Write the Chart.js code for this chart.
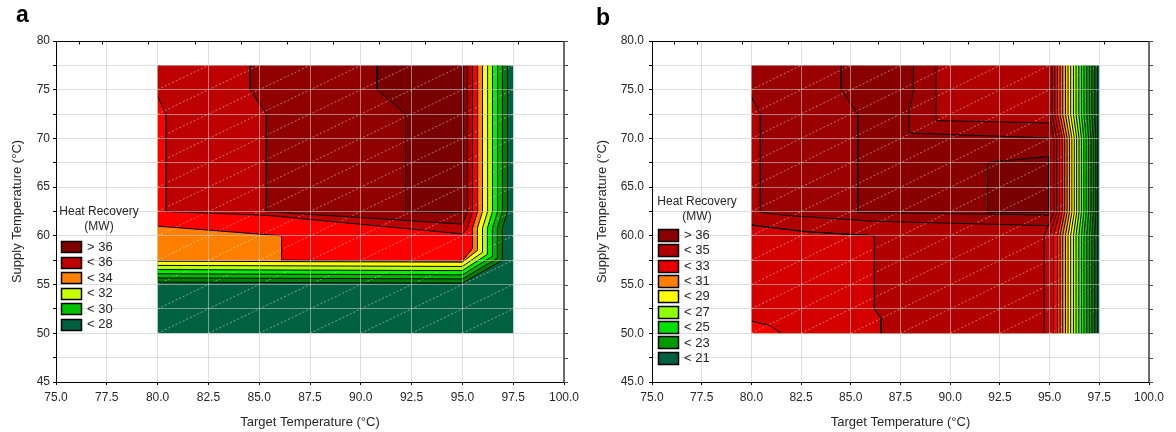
<!DOCTYPE html>
<html>
<head>
<meta charset="utf-8">
<script src="https://cdn.jsdelivr.net/npm/chart.js"></script>
<style>
html,body{margin:0;padding:0;background:#fff;}
#wrap{position:relative;width:1176px;height:432px;overflow:hidden;}
.pane{position:absolute;top:0;width:588px;height:432px;}
.tag{position:absolute;font:bold 23px 'Liberation Sans',Arial,sans-serif;color:#000;line-height:23px;}
</style>
</head>
<body>
<div id="wrap">
  <div class="pane" style="left:0"><canvas id="ca" width="588" height="432"></canvas></div>
  <div class="pane" style="left:588px"><canvas id="cb" width="588" height="432"></canvas></div>
  <div class="tag" style="left:16px;top:3px">a</div>
  <div class="tag" style="left:596px;top:6px">b</div>
</div>
<script>
// ================= DATA =================
const xTitle = 'Target Temperature (°C)';
const yTitle = 'Supply Temperature (°C)';
const legendTitle = ['Heat Recovery', '(MW)'];
const topTickX = [75, 76.13, 77.27, 79.55, 81.82, 84.09, 86.36, 88.64, 90.91, 93.18, 95.45, 97.73];
const hatchOffsets = [-5, -7.5, -10, -12.5, -15, -17.5, -20, -22.5, -25, -27.5, -30, -32.5, -35, -37.5, -40, -42.5, -45];

// ---- panel a ----
const aDomain = [80, 97.5, 50, 77.5];
const aColors = ['#006141', '#008000', '#00b400', '#00f000', '#b4ff00', '#ffff00', '#ff8000', '#ff0000', '#bd0000', '#900000', '#780000'];
const aBandTopX = [97.22, 96.97, 96.73, 96.48, 96.24, 95.99, 95.75];
const aBandMidX = [96.97, 96.72, 96.48, 96.23, 95.99, 95.74, 95.50];
const aBandCornerY = [57.5, 57.7, 57.9, 58.1, 58.3, 58.5, 58.7];
const aBandY95 = [55.15, 55.58, 56.0, 56.43, 56.86, 57.30, 57.42];
const aBandY80 = [55.25, 55.68, 56.11, 56.54, 56.97, 57.40];
const aKinkY = [60.8, 62.5];
const aOrangeEdge = [[80, 61.0], [86.1, 60.0], [86.1, 57.5]];
const aRegion8 = [[80, 77.5], [80, 74.3], [80.4, 72.5], [80.4, 62.5], [85.4, 62.1], [95.0, 60.2], [95.25, 60.8], [95.5, 62.5], [95.5, 77.5]];
const aRegion9 = [[84.55, 77.5], [84.55, 75], [85.35, 72.5], [85.35, 62.5], [95.0, 61.2], [95.26, 62.5], [95.26, 77.5]];
const aRegion10 = [[90.8, 77.5], [90.8, 75], [92.2, 72.5], [92.2, 62.5], [95.0, 62.35], [95.05, 77.5]];
const aLegendLabels = ['> 36', '< 36', '< 34', '< 32', '< 30', '< 28'];
const aLegendColors = ['#800000', '#c00000', '#ff8000', '#c8ff00', '#00c000', '#006040'];

// ---- panel b ----
const bDomain = [80, 97.5, 50, 77.5];
const bColors = ['#006040', '#007030', '#008000', '#009a00', '#00b400', '#00d000', '#00ec00', '#40ff00', '#80ff00', '#b0ff00', '#e0ff00', '#ffff00', '#ffd000', '#ffa000', '#ff7000', '#ff4000', '#ff0000', '#d40000', '#c40000', '#b00000', '#9a0000', '#880000', '#780000'];
const bBandTopX = [97.39, 97.27, 97.13, 97.0, 96.87, 96.73, 96.6, 96.47, 96.33, 96.2, 96.06, 95.93, 95.8, 95.66, 95.53, 95.4, 95.26, 95.13, 95.0];
const bBandMidX = [97.43, 97.32, 97.2, 97.08, 96.96, 96.84, 96.72, 96.6, 96.48, 96.36, 96.24, 96.12, 96.0, 95.88, 95.76, 95.64, 95.5, 95.36, 95.22];
const bBandBotX = [97.39, 97.27, 97.13, 97.0, 96.87, 96.73, 96.6, 96.47, 96.33, 96.2, 96.06, 95.93, 95.8, 95.66, 95.53, 95.4, 95.2, 95.0, 94.73];
const bKinkY = [60.07, 62.41, 70.04, 72.45];
const bCornerEdge = [[80, 51.25], [80.92, 50.8], [81.5, 50]];
const bBlockEdge = [[80, 61.11], [82.76, 60.42], [86.19, 60.01], [86.19, 52.52], [86.53, 51.49], [86.53, 50]];
const bRegionTL = [[80, 77.5], [80, 74.3], [80.45, 72.5], [80.45, 62.41], [81.92, 62.07], [86.2, 61.5], [95.0, 61.04], [95.0, 71.59], [89.29, 71.83], [89.29, 77.5]];
const bRegionMid = [[84.52, 77.5], [84.52, 75], [85.35, 72.5], [85.35, 62.41], [95.0, 62.14], [95.0, 70.04], [87.92, 70.56], [87.92, 72.62], [88.15, 75], [88.15, 77.5]];
const bRegionBox = [[91.88, 67.53], [94.97, 68.15], [94.97, 62.41], [91.88, 62.41]];
const bLegendLabels = ['> 36', '< 35', '< 33', '< 31', '< 29', '< 27', '< 25', '< 23', '< 21'];
const bLegendColors = ['#8b0000', '#b00000', '#e80000', '#ff8000', '#ffff00', '#90ff00', '#00e000', '#009a00', '#006040'];

// ================= BUILD REGIONS =================
function rectPoly(d) { return [[d[0], d[2]], [d[1], d[2]], [d[1], d[3]], [d[0], d[3]]]; }

const aPolys = [rectPoly(aDomain)];
for (let k = 0; k < aBandY80.length; k++) {
  aPolys.push([[80, 77.5], [80, aBandY80[k]], [95, aBandY95[k]], [aBandMidX[k], aBandCornerY[k]],
    [aBandMidX[k], aKinkY[0]], [aBandTopX[k], aKinkY[1]], [aBandTopX[k], 77.5]]);
}
{
  const k = 6;
  aPolys.push([[80, 77.5], ...aOrangeEdge, [95, aBandY95[k]], [aBandMidX[k], aBandCornerY[k]],
    [aBandMidX[k], aKinkY[0]], [aBandTopX[k], aKinkY[1]], [aBandTopX[k], 77.5]]);
}
aPolys.push(aRegion8, aRegion9, aRegion10);

const bPolys = [rectPoly(bDomain)];
for (let i = 0; i < bBandTopX.length; i++) {
  const k = i + 1;
  const left = k <= 16 ? [[80, 50]] : (k === 17 ? bCornerEdge : bBlockEdge);
  bPolys.push([[80, 77.5], ...left, [bBandBotX[i], 50], [bBandBotX[i], bKinkY[0]], [bBandMidX[i], bKinkY[1]],
    [bBandMidX[i], bKinkY[2]], [bBandTopX[i], bKinkY[3]], [bBandTopX[i], 77.5]]);
}
bPolys.push(bRegionTL, bRegionMid, bRegionBox);

// ================= HELPERS =================
const FONT = "'Liberation Sans', Arial, sans-serif";
const TXT = '#262626';
const GRID = 'rgba(200,200,200,0.6)';

function isEdge(a, b, d) {
  const e = 1e-6;
  if (Math.abs(a[0] - b[0]) < e && (Math.abs(a[0] - d[0]) < e || Math.abs(a[0] - d[1]) < e)) return true;
  if (Math.abs(a[1] - b[1]) < e && (Math.abs(a[1] - d[2]) < e || Math.abs(a[1] - d[3]) < e)) return true;
  return false;
}
function contourLine(poly, d) {
  const pts = poly.concat([poly[0]]);
  const out = [];
  let open = false;
  for (let i = 0; i < pts.length - 1; i++) {
    const a = pts[i], b = pts[i + 1];
    if (isEdge(a, b, d)) {
      if (open) { out.push({x: a[0], y: null}); open = false; }
      continue;
    }
    if (!open) { out.push({x: a[0], y: a[1]}); open = true; }
    out.push({x: b[0], y: b[1]});
  }
  return out;
}
function hatchSets(d) {
  const sets = [];
  hatchOffsets.forEach(c => {
    const xa = Math.max(d[0], d[2] - c), xb = Math.min(d[1], d[3] - c);
    if (xb > xa) sets.push({data: [{x: xa, y: xa + c}, {x: xb, y: xb + c}], fill: false,
      borderColor: 'rgba(255,255,255,0.45)', borderWidth: 1, borderDash: [2, 2], pointRadius: 0, order: 6});
  });
  return sets;
}

const framePlugin = {
  id: 'frame',
  afterDraw(chart, args, opts) {
    const {ctx, chartArea: ca, scales: {x, y}} = chart;
    ctx.save();
    ctx.strokeStyle = '#000'; ctx.lineWidth = 1;
    const top = Math.round(ca.top) + 0.5;
    ctx.beginPath();
    ctx.moveTo(ca.left, top); ctx.lineTo(ca.right, top);
    opts.topTicks.forEach(v => { const px = Math.round(x.getPixelForValue(v)) + 0.5; ctx.moveTo(px, top); ctx.lineTo(px, top + 3); });
    ctx.stroke();
    const r = Math.round(ca.right);
    ctx.strokeStyle = '#4a4a4a'; ctx.lineWidth = 1.6;
    ctx.beginPath(); ctx.moveTo(r, ca.top); ctx.lineTo(r, ca.bottom); ctx.stroke();
    ctx.lineWidth = 1; ctx.beginPath();
    y.ticks.forEach(t => { const py = Math.round(y.getPixelForValue(t.value)) + 0.5; ctx.moveTo(r, py); ctx.lineTo(r + 4, py); });
    ctx.stroke();
    ctx.restore();
  }
};
const legendPlugin = {
  id: 'heatLegend',
  afterDraw(chart, args, o) {
    const {ctx, chartArea: ca} = chart;
    ctx.save();
    ctx.fillStyle = TXT; ctx.font = '12px ' + FONT; ctx.textAlign = 'center'; ctx.textBaseline = 'middle';
    ctx.fillText(legendTitle[0], ca.left + o.titleDX, o.titleY);
    ctx.fillText(legendTitle[1], ca.left + o.titleDX, o.titleY + 15);
    o.labels.forEach((lab, i) => {
      const cy = o.firstY + i * o.step;
      const bx = Math.round(ca.left + o.boxDX) + 0.5, by = Math.round(cy - o.boxH / 2) + 0.5;
      ctx.fillStyle = o.colors[i]; ctx.fillRect(bx, by, 20, o.boxH);
      ctx.strokeStyle = '#000'; ctx.lineWidth = 1.5; ctx.strokeRect(bx, by, 20, o.boxH);
      ctx.fillStyle = TXT; ctx.textAlign = 'left'; ctx.font = '13px ' + FONT;
      ctx.fillText(lab, ca.left + o.boxDX + 26, cy + 0.5);
    });
    ctx.restore();
  }
};

function buildChart(id, o) {
  const datasets = [];
  o.polys.forEach((poly, k) => {
    datasets.push({data: poly.concat([poly[0]]).map(([x, y]) => ({x, y})), fill: 'shape',
      backgroundColor: o.colors[k], borderColor: 'rgba(0,0,0,0)', borderWidth: 0, pointRadius: 0, tension: 0, order: 1000 - k});
  });
  hatchSets(o.dom).forEach(s => datasets.push(s));
  o.polys.forEach(poly => {
    const d = contourLine(poly, o.dom);
    if (d.length) datasets.push({data: d, fill: false, borderColor: '#000', borderWidth: 1, pointRadius: 0, tension: 0, spanGaps: false, order: 2});
  });
  const tickFont = {family: FONT, size: 12};
  const titleFont = {family: FONT, size: 13};
  return new Chart(document.getElementById(id), {
    type: 'line',
    data: {datasets},
    options: {
      responsive: false, animation: false, devicePixelRatio: 1, events: [],
      layout: {padding: {top: 41, right: o.padRight, left: 0, bottom: 0}},
      plugins: {legend: {display: false}, tooltip: {enabled: false},
        frame: {topTicks: topTickX}, heatLegend: o.legend},
      scales: {
        x: {type: 'linear', min: 75, max: 100, afterFit: s => { s.height = 50; },
          ticks: {stepSize: 2.5, autoSkip: false, maxRotation: 0, padding: 5, color: TXT, font: tickFont, callback: v => v.toFixed(1)},
          grid: {color: GRID, lineWidth: 1, z: 1, tickLength: 3, tickColor: '#000'},
          border: {color: '#000', width: 1, z: 2},
          title: {display: true, text: xTitle, color: TXT, font: titleFont, padding: {top: 0, bottom: 2}}},
        y: {type: 'linear', min: 45, max: 80, afterFit: s => { s.width = o.yWidth; },
          ticks: {stepSize: 2.5, autoSkip: false, padding: o.yTickPad, color: TXT, font: tickFont,
            callback: v => Math.abs(v / 5 - Math.round(v / 5)) < 1e-6 ? o.yFmt(v) : ''},
          grid: {color: GRID, lineWidth: 1, z: 1, tickLength: 3, tickColor: '#000'},
          border: {color: '#000', width: 1, z: 2},
          title: {display: true, text: yTitle, color: TXT, font: titleFont, padding: {top: o.yTitlePad, bottom: 0}}}
      }
    },
    plugins: [framePlugin, legendPlugin]
  });
}

buildChart('ca', {polys: aPolys, colors: aColors, dom: aDomain, padRight: 24, yWidth: 56, yTickPad: 3, yTitlePad: 10,
  yFmt: v => String(Math.round(v)),
  legend: {labels: aLegendLabels, colors: aLegendColors, titleDX: 43, titleY: 212, boxDX: 5, firstY: 246.5, step: 15.5, boxH: 11}});
buildChart('cb', {polys: bPolys, colors: bColors, dom: bDomain, padRight: 27, yWidth: 64, yTickPad: 5, yTitlePad: 7,
  yFmt: v => v.toFixed(1),
  legend: {labels: bLegendLabels, colors: bLegendColors, titleDX: 45, titleY: 201.7, boxDX: 6, firstY: 235, step: 15.35, boxH: 12}});
</script>
</body>
</html>
